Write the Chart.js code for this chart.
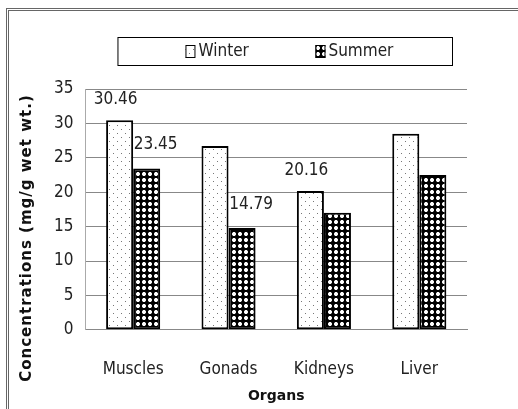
<!DOCTYPE html>
<html>
<head>
<meta charset="utf-8">
<script src="https://cdn.jsdelivr.net/npm/chart.js@4"></script>
<style>
  body { margin: 0; background: #fff; }
  #frame { position: absolute; left: 6px; top: 8px; width: 620px; height: 520px; border: 3px double #666; }
  #wrap { position: absolute; left: 0; top: 0; width: 518px; height: 409px; }
</style>
</head>
<body>
<div id="frame"></div>
<div id="wrap"><canvas id="myChart" width="518" height="409"></canvas></div>
<script>
'use strict';
// data
let organs = ['Muscles', 'Gonads', 'Kidneys', 'Liver'];
let winterValues = [30.46, 26.7, 20.16, 28.5];
let summerValues = [23.45, 14.79, 17.0, 22.5];
// only some bars carry a value label
let winterLabels = ['30.46', null, '20.16', null];
let summerLabels = ['23.45', '14.79', null, null];
let yTicks = [0, 5, 10, 15, 20, 25, 30, 35];
let yTitle = 'Concentrations (mg/g wet wt.)';

let narrow = '"Liberation Sans Narrow", "DejaVu Sans Condensed", sans-serif';

// fill patterns
function dotPattern() {
  let c = document.createElement('canvas');
  c.width = 8; c.height = 8;
  let g = c.getContext('2d');
  g.fillStyle = '#fff';
  g.fillRect(0, 0, 8, 8);
  g.fillStyle = '#777';
  g.fillRect(1, 1, 1, 1);
  g.fillRect(5, 5, 1, 1);
  return g.createPattern(c, 'repeat');
}
function diamondPattern() {
  let c = document.createElement('canvas');
  c.width = 6; c.height = 6;
  let g = c.getContext('2d');
  g.fillStyle = '#fff';
  g.fillRect(0, 0, 6, 6);
  g.fillStyle = '#000';
  g.beginPath();
  g.moveTo(3, -0.5); g.lineTo(6, 3); g.lineTo(3, 6.5); g.lineTo(0, 3);
  g.closePath();
  g.fill();
  g.fillRect(0, 2, 6, 2);
  g.fillRect(2, 0, 2, 6);
  return g.createPattern(c, 'repeat');
}

let winterFill = dotPattern();
let summerFill = diamondPattern();

// draws the few value labels above bars
let valueLabels = {
  id: 'valueLabels',
  afterDatasetsDraw(chart) {
    let ctx = chart.ctx;
    let sets = [winterLabels, summerLabels];
    ctx.save();
    ctx.font = '17px ' + narrow;
    ctx.fillStyle = '#222';
    ctx.textAlign = 'center';
    ctx.textBaseline = 'bottom';
    for (let d = 0; d < 2; d++) {
      let meta = chart.getDatasetMeta(d);
      for (let i = 0; i < sets[d].length; i++) {
        if (sets[d][i] === null) continue;
        let bar = meta.data[i];
        let dx = d === 1 ? 9 : -4;
        let dy = d === 1 ? 15 : 12;
        ctx.fillText(sets[d][i], bar.x + dx, bar.y - dy);
      }
    }
    ctx.restore();
  }
};

// legend drawn by hand, in a wide box above the plot
let boxLegend = {
  id: 'boxLegend',
  afterDraw(chart) {
    let ctx = chart.ctx;
    let area = chart.chartArea;
    let left = area.left + 32;
    let right = area.right - 15;
    let top = 37;
    let h = 28;
    ctx.save();
    ctx.strokeStyle = '#000';
    ctx.lineWidth = 1;
    ctx.strokeRect(left + 0.5, top + 0.5, right - left, h);
    ctx.font = '17px ' + narrow;
    ctx.textBaseline = 'middle';
    ctx.textAlign = 'left';
    let fills = [winterFill, summerFill];
    let x = left + 68;
    chart.data.datasets.forEach(function (ds, i) {
      ctx.fillStyle = fills[i];
      ctx.fillRect(x, top + 8, 10, 13);
      ctx.strokeRect(x + 0.5, top + 8.5, 9, 12);
      ctx.fillStyle = '#222';
      ctx.fillText(ds.label, x + 13, top + h / 2 + 1);
      x += 130;
    });
    ctx.restore();
  }
};

// y axis title, wider letter spacing than the library gives
let sideTitle = {
  id: 'sideTitle',
  afterDraw(chart) {
    let ctx = chart.ctx;
    ctx.save();
    ctx.translate(27, 238);
    ctx.rotate(-Math.PI / 2);
    ctx.font = 'bold 15px "DejaVu Sans", sans-serif';
    ctx.letterSpacing = '1px';
    ctx.fillStyle = '#111';
    ctx.textAlign = 'center';
    ctx.textBaseline = 'middle';
    ctx.fillText(yTitle, 0, 0);
    ctx.restore();
  }
};

let ctx = document.getElementById('myChart').getContext('2d');
let chart = new Chart(ctx, {
  type: 'bar',
  data: {
    labels: organs,
    datasets: [
      {
        label: 'Winter',
        data: winterValues,
        backgroundColor: winterFill,
        borderColor: '#000',
        borderWidth: 2,
        borderSkipped: false
      },
      {
        label: 'Summer',
        data: summerValues,
        backgroundColor: summerFill,
        borderColor: '#000',
        borderWidth: 2,
        borderSkipped: false
      }
    ]
  },
  plugins: [valueLabels, boxLegend, sideTitle],
  options: {
    responsive: false,
    animation: false,
    layout: { padding: { left: 42, right: 51, top: 89, bottom: 4 } },
    datasets: { bar: { categoryPercentage: 0.567, barPercentage: 1 } },
    plugins: {
      tooltip: { enabled: false },
      legend: { display: false }
    },
    scales: {
      x: {
        grid: { display: false },
        border: { color: '#888', width: 1 },
        ticks: { font: { family: narrow, size: 17 }, color: '#222', padding: 22 },
        title: {
          display: true,
          text: 'Organs',
          font: { family: '"DejaVu Sans", sans-serif', size: 14, weight: 'bold' },
          color: '#111',
          padding: { top: -14, bottom: 0 }
        }
      },
      y: {
        min: 0,
        max: 35,
        afterBuildTicks(axis) {
          axis.ticks = yTicks.map(function (v) { return { value: v }; });
        },
        grid: { color: '#888', drawTicks: false },
        border: { color: '#aaa', width: 1 },
        ticks: { font: { family: narrow, size: 17 }, color: '#222', padding: 12 }
      }
    }
  }
});
</script>
</body>
</html>
